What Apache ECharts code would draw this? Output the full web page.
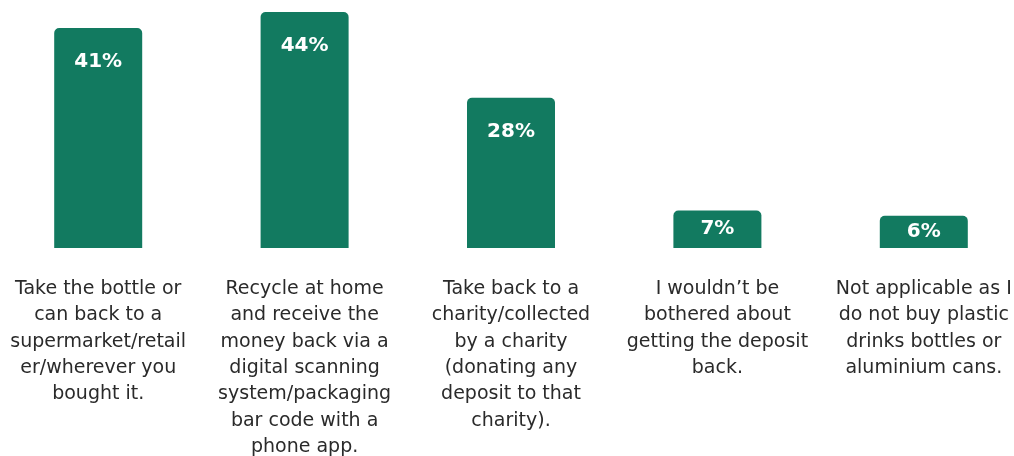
<!DOCTYPE html>
<html>
<head>
<meta charset="utf-8">
<script src="https://cdn.jsdelivr.net/npm/echarts@6/dist/echarts.min.js"></script>
<style>
  html, body { margin: 0; padding: 0; background: #ffffff; }
  #chart { width: 1014px; height: 456px; }
</style>
</head>
<body>
<div id="chart"></div>
<script>
// Answer options, wrapped as they are printed under each bar
const categories = [
  'Take the bottle or\ncan back to a\nsupermarket/retail\ner/wherever you\nbought it.',
  'Recycle at home\nand receive the\nmoney back via a\ndigital scanning\nsystem/packaging\nbar code with a\nphone app.',
  'Take back to a\ncharity/collected\nby a charity\n(donating any\ndeposit to that\ncharity).',
  'I wouldn\u2019t be\nbothered about\ngetting the deposit\nback.',
  'Not applicable as I\ndo not buy plastic\ndrinks bottles or\naluminium cans.'
];

// Share of respondents choosing each option (%)
const shares = [41, 44, 28, 7, 6];

const GREEN = '#127a60';

const chart = echarts.init(document.getElementById('chart'), null, { renderer: 'canvas' });

chart.setOption({
  animation: false,
  backgroundColor: '#ffffff',
  grid: {
    left: -5, right: -13, top: 12, bottom: 208,
    containLabel: false,
    outerBoundsMode: 'none'
  },
  xAxis: {
    type: 'category',
    data: categories,
    axisLine: { show: false },
    axisTick: { show: false },
    axisLabel: {
      interval: 0,
      margin: 28,
      color: '#2a2a2a',
      fontFamily: 'DejaVu Sans',
      fontSize: 19,
      lineHeight: 26.3,
      align: 'center',
      verticalAlign: 'top'
    }
  },
  yAxis: {
    type: 'value',
    min: 0,
    max: 44,
    show: false,
    splitLine: { show: false }
  },
  series: [{
    type: 'bar',
    barWidth: 88,
    itemStyle: { color: GREEN, borderRadius: [5, 5, 0, 0] },
    data: shares.map(v => ({
      value: v,
      label: v < 10
        ? { position: 'inside' }
        : { position: 'insideTop', distance: 24 }
    })),
    label: {
      show: true,
      formatter: '{c}%',
      color: '#ffffff',
      fontFamily: 'DejaVu Sans',
      fontWeight: 'bold',
      fontSize: 20
    }
  }]
});
</script>
</body>
</html>
